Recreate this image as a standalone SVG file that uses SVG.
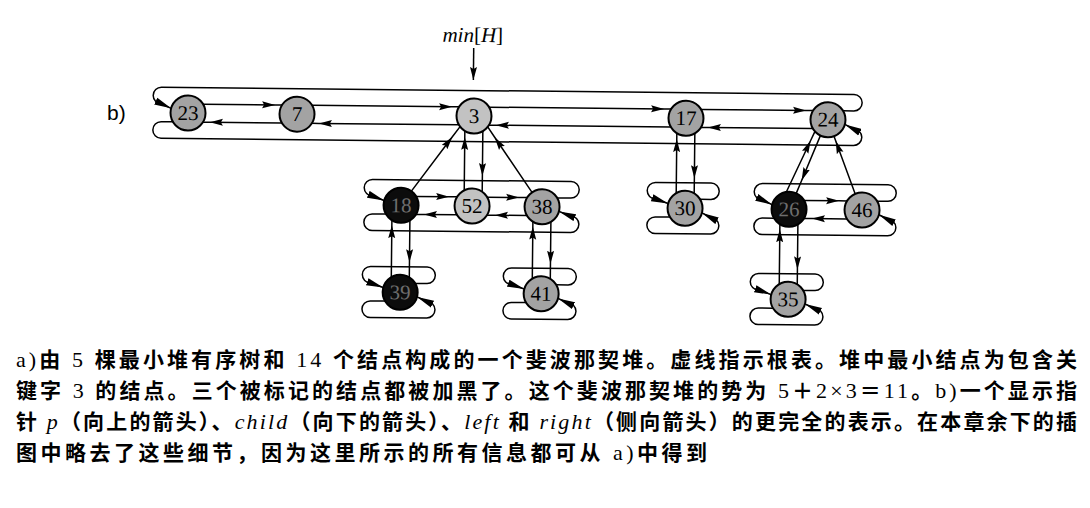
<svg xmlns="http://www.w3.org/2000/svg" width="1090" height="508" viewBox="0 0 1090 508">
<style>
.ln{fill:none;stroke:#000;stroke-width:1.5}
.am{marker-mid:url(#ah)}
.ae{marker-end:url(#ah)}
.we{marker-end:url(#wg)}
.nd{stroke:#000;stroke-width:2}
.g{fill:#a3a3a3}
.l{fill:#c2c2c2}
.k{fill:#0c0c0c}
.t{font-family:'Liberation Serif','Times New Roman',serif;font-size:21px;text-anchor:middle;fill:#000}
.tk{fill:#6e6e6e}
.cap{font-family:'Liberation Serif','Noto Sans CJK SC',serif;font-size:21px;font-weight:bold;fill:#000}
.r{font-weight:normal;font-size:22px}
.i{font-style:italic;font-weight:normal;font-size:22px}
</style>
<defs>
<marker id="ah" markerUnits="userSpaceOnUse" viewBox="0 0 14 8" markerWidth="14" markerHeight="8" refX="13" refY="4" orient="auto"><path d="M0,0.5 L13,4 L0,7.5 L2,4 Z" fill="#000"/></marker>
<marker id="wg" markerUnits="userSpaceOnUse" viewBox="0 0 18 8" markerWidth="18" markerHeight="8" refX="17" refY="4" orient="auto"><path d="M0,0.3 L17,4 L0,7.7 Z" fill="#000"/></marker>
</defs>
<text x="107" y="120" font-family="'Liberation Sans',Arial,sans-serif" font-size="21">b)</text>
<g transform="rotate(0.6 474 116)">
<g id="minH">
<text x="472" y="42" font-family="'Liberation Serif','Times New Roman',serif" font-size="21" text-anchor="middle"><tspan font-style="italic">min</tspan>[<tspan font-style="italic">H</tspan>]</text>
<path class="ln ae" d="M473,48 L473,80"/>
</g>
<g id="connectors">
<path class="ln we" d="M843,107 H853.75 A8.25 8.25 0 0 0 853.75,90.5 H161.25 A8.25 8.25 0 0 0 161.25,107 L171,111.5"/>
<path class="ln we" d="M173,125 H161.25 A8.25 8.25 0 0 0 161.25,141.5 H853.75 A8.25 8.25 0 0 0 853.75,125 L845,120.5"/>
<path class="ln am" d="M203,107 L275,107 L282,107"/>
<path class="ln am" d="M312,107 L452,107 L459,107"/>
<path class="ln am" d="M489,107 L664,107 L671,107"/>
<path class="ln am" d="M701,107 L806,107 L813,107"/>
<path class="ln am" d="M282,125 L210,125 L203,125"/>
<path class="ln am" d="M459,125 L319,125 L312,125"/>
<path class="ln am" d="M671,125 L496,125 L489,125"/>
<path class="ln am" d="M813,125 L708,125 L701,125"/>
<path class="ln we" d="M558,197 H571.75 A8.25 8.25 0 0 0 571.75,180.5 H373.25 A8.25 8.25 0 0 0 373.25,197 L385,201.5"/>
<path class="ln we" d="M387,215 H373.25 A8.25 8.25 0 0 0 373.25,231.5 H571.75 A8.25 8.25 0 0 0 571.75,215 L560,210.5"/>
<path class="ln am" d="M417,197 L450,197 L458,197"/>
<path class="ln am" d="M488,197 L520,197 L528,197"/>
<path class="ln am" d="M458,215 L425,215 L417,215"/>
<path class="ln am" d="M528,215 L496,215 L488,215"/>
<path class="ln we" d="M701,197 H711.75 A8.25 8.25 0 0 0 711.75,180.5 H656.25 A8.25 8.25 0 0 0 656.25,197 L669,201.5"/>
<path class="ln we" d="M671,215 H656.25 A8.25 8.25 0 0 0 656.25,231.5 H711.75 A8.25 8.25 0 0 0 711.75,215 L703,210.5"/>
<path class="ln we" d="M878,197 H888.75 A8.25 8.25 0 0 0 888.75,180.5 H763.25 A8.25 8.25 0 0 0 763.25,197 L773,201.5"/>
<path class="ln we" d="M775,215 H763.25 A8.25 8.25 0 0 0 763.25,231.5 H888.75 A8.25 8.25 0 0 0 888.75,215 L880,210.5"/>
<path class="ln am" d="M805,197 L840,197 L848,197"/>
<path class="ln am" d="M848,215 L813,215 L805,215"/>
<path class="ln we" d="M417,284 H428.75 A8.25 8.25 0 0 0 428.75,267.5 H372.25 A8.25 8.25 0 0 0 372.25,284 L385,288.5"/>
<path class="ln we" d="M387,302 H372.25 A8.25 8.25 0 0 0 372.25,318.5 H428.75 A8.25 8.25 0 0 0 428.75,302 L419,297.5"/>
<path class="ln we" d="M558,284 H569.75 A8.25 8.25 0 0 0 569.75,267.5 H513.25 A8.25 8.25 0 0 0 513.25,284 L526,288.5"/>
<path class="ln we" d="M528,302 H513.25 A8.25 8.25 0 0 0 513.25,318.5 H569.75 A8.25 8.25 0 0 0 569.75,302 L560,297.5"/>
<path class="ln we" d="M805,287 H816.75 A8.25 8.25 0 0 0 816.75,270.5 H760.25 A8.25 8.25 0 0 0 760.25,287 L773,291.5"/>
<path class="ln we" d="M775,305 H760.25 A8.25 8.25 0 0 0 760.25,321.5 H816.75 A8.25 8.25 0 0 0 816.75,305 L807,300.5"/>
<path class="ln am" d="M483,131 L483,176 L483,191"/>
<path class="ln am" d="M465,191 L465,137 L465,131"/>
<path class="ln am" d="M412,192 L452.6,137 L460,127"/>
<path class="ln am" d="M533,192 L494.9,137 L488,127"/>
<path class="ln am" d="M695,131 L695,176 L695,191"/>
<path class="ln am" d="M677,191 L677,137 L677,131"/>
<path class="ln am" d="M787,189 L810.9,137 L815,128"/>
<path class="ln am" d="M821,131 L802.3,177 L797,190"/>
<path class="ln am" d="M856,190 L835.9,137 L834,132"/>
<path class="ln am" d="M411,221 L411,263 L411,278"/>
<path class="ln am" d="M393,278 L393,226 L393,221"/>
<path class="ln am" d="M552,221 L552,263 L552,278"/>
<path class="ln am" d="M534,278 L534,226 L534,221"/>
<path class="ln am" d="M799,221 L799,266 L799,281"/>
<path class="ln am" d="M781,281 L781,226 L781,221"/>
</g>
<g id="n23"><circle class="nd g" cx="188" cy="116" r="17.5"/><text class="t" x="188" y="123">23</text></g>
<g id="n7"><circle class="nd g" cx="297" cy="116" r="17.5"/><text class="t" x="297" y="123">7</text></g>
<g id="n3"><circle class="nd l" cx="474" cy="116" r="17.5"/><text class="t" x="474" y="123">3</text></g>
<g id="n17"><circle class="nd g" cx="686" cy="116" r="17.5"/><text class="t" x="686" y="123">17</text></g>
<g id="n24"><circle class="nd g" cx="828" cy="116" r="17.5"/><text class="t" x="828" y="123">24</text></g>
<g id="n18"><circle class="nd k" cx="402" cy="206" r="17.5"/><text class="t tk" x="402" y="213">18</text></g>
<g id="n52"><circle class="nd l" cx="473" cy="206" r="17.5"/><text class="t" x="473" y="213">52</text></g>
<g id="n38"><circle class="nd g" cx="543" cy="206" r="17.5"/><text class="t" x="543" y="213">38</text></g>
<g id="n30"><circle class="nd g" cx="686" cy="206" r="17.5"/><text class="t" x="686" y="213">30</text></g>
<g id="n26"><circle class="nd k" cx="790" cy="206" r="17.5"/><text class="t tk" x="790" y="213">26</text></g>
<g id="n46"><circle class="nd g" cx="863" cy="206" r="17.5"/><text class="t" x="863" y="213">46</text></g>
<g id="n39"><circle class="nd k" cx="402" cy="293" r="17.5"/><text class="t tk" x="402" y="300">39</text></g>
<g id="n41"><circle class="nd g" cx="543" cy="293" r="17.5"/><text class="t" x="543" y="300">41</text></g>
<g id="n35"><circle class="nd g" cx="790" cy="296" r="17.5"/><text class="t" x="790" y="303">35</text></g>
</g>
<g id="caption">
<text class="cap" x="16" y="367" textLength="1061" lengthAdjust="spacing"><tspan class="r">a)</tspan>由<tspan class="r"> 5 </tspan>棵最小堆有序树和<tspan class="r"> 14 </tspan>个结点构成的一个斐波那契堆。虚线指示根表。堆中最小结点为包含关</text>
<text class="cap" x="16" y="398" textLength="1061" lengthAdjust="spacing">键字<tspan class="r"> 3 </tspan>的结点。三个被标记的结点都被加黑了。这个斐波那契堆的势为<tspan class="r"> 5</tspan>＋<tspan class="r">2×3</tspan>＝<tspan class="r">11</tspan>。<tspan class="r">b)</tspan>一个显示指</text>
<text class="cap" x="16" y="429" textLength="1061" lengthAdjust="spacing">针<tspan class="r"> </tspan><tspan class="i">p</tspan>（向上的箭头）、<tspan class="i">child</tspan>（向下的箭头）、<tspan class="i">left</tspan><tspan class="r"> </tspan>和<tspan class="r"> </tspan><tspan class="i">right</tspan>（侧向箭头）的更完全的表示。在本章余下的插</text>
<text class="cap" x="16" y="460" textLength="691" lengthAdjust="spacing">图中略去了这些细节，因为这里所示的所有信息都可从<tspan class="r"> a)</tspan>中得到</text>
</g>
</svg>
